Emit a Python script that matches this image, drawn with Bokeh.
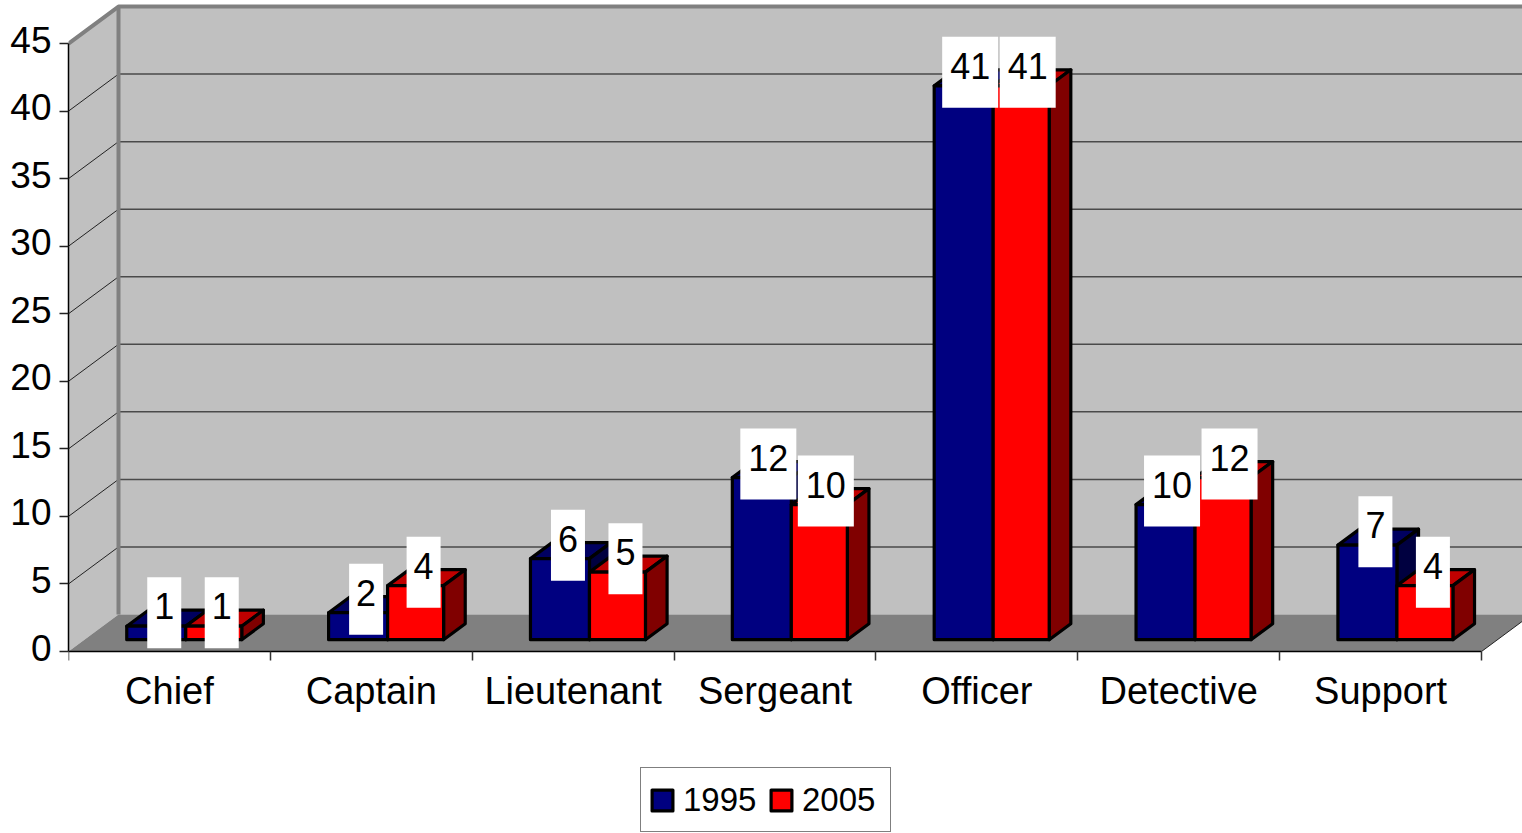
from bokeh.embed import file_html
from bokeh.resources import INLINE
from bokeh.plotting import figure
from bokeh.core.properties import value
from bokeh.models import (LinearAxis, Range1d, FixedTicker, Legend, LegendItem)

categories = ["Chief", "Captain", "Lieutenant", "Sergeant", "Officer", "Detective", "Support"]
series_1995 = [1, 2, 6, 12, 41, 10, 7]
series_2005 = [1, 4, 5, 10, 41, 12, 4]
y_ticks = [0, 5, 10, 15, 20, 25, 30, 35, 40, 45]
legend_names = ["1995", "2005"]

FONT = "Liberation Sans"
W, H = 1522, 833
LEFT, BASE = 68, 651
CW = 201.86       # px per category
VH = 13.51        # px per value unit
PX = 1.0 / CW     # one px in x data units
PY = 1.0 / VH     # one px in y data units
WALL_DX, WALL_DY = 50 * PX, 37 * PY      # floor depth
BAR_D0, BAR_D1 = 11.8 / 37, 27.8 / 37    # bar depth in the floor
GAP = 42.3 * PX
BW = [59 * PX, 56 * PX]
XMAX = (W - LEFT) * PX
YMAX = BASE * PY
YMIN = (BASE - H) * PY


def proj(x, y, d):
    return x + d * WALL_DX, y + d * WALL_DY


p = figure(width=W, height=H, output_backend="svg", toolbar_location=None,
           x_range=Range1d(0, XMAX), y_range=Range1d(YMIN, YMAX),
           x_axis_location=None, y_axis_location=None,
           min_border_left=LEFT, min_border_right=0, min_border_top=0,
           min_border_bottom=0, outline_line_color=None,
           background_fill_color="white")
p.grid.visible = False

# walls and floor
wx0, wy0 = proj(0, 0, 1)
wx1, wy1 = proj(0, 45, 1)
rx, ry = proj(7, 0, 1)
p.patch([wx0, XMAX, XMAX, wx0], [wy0, wy0, wy1, wy1], fill_color="#C0C0C0", line_color=None)
p.patch([0, wx0, wx1, 0], [0, wy0, wy1, 45], fill_color="#C0C0C0", line_color=None)
p.patch([0, wx0, rx, 7], [0, wy0, ry, 0], fill_color="#808080", line_color=None)

grid_vals = y_ticks[1:-1]
p.multi_line([[wx0, XMAX] for v in grid_vals],
             [[proj(0, v, 1)[1]] * 2 for v in grid_vals], line_color="#4a4a4a", line_width=1.5)
p.multi_line([[0, wx0] for v in grid_vals],
             [[v, proj(0, v, 1)[1]] for v in grid_vals], line_color="#222222", line_width=1)
p.line([7, rx], [0, ry], line_color="#222222", line_width=1)
p.line([wx0, wx0], [wy0, wy1], line_color="#808080", line_width=4)
p.line([0, wx1, XMAX], [45, wy1, wy1], line_color="#808080", line_width=4)


def faces(vals, left_shift, bw):
    front_x, front_y, top_x, top_y, side_x, side_y = [], [], [], [], [], []
    for i, v in enumerate(vals):
        x0 = i + GAP + left_shift
        x1 = x0 + bw
        a = [proj(x0, 0, BAR_D0), proj(x1, 0, BAR_D0), proj(x1, v, BAR_D0), proj(x0, v, BAR_D0)]
        b = [proj(x0, v, BAR_D0), proj(x1, v, BAR_D0), proj(x1, v, BAR_D1), proj(x0, v, BAR_D1)]
        c = [proj(x1, 0, BAR_D0), proj(x1, 0, BAR_D1), proj(x1, v, BAR_D1), proj(x1, v, BAR_D0)]
        front_x.append([q[0] for q in a]); front_y.append([q[1] for q in a])
        top_x.append([q[0] for q in b]); top_y.append([q[1] for q in b])
        side_x.append([q[0] for q in c]); side_y.append([q[1] for q in c])
    return front_x, front_y, top_x, top_y, side_x, side_y


OUT = dict(line_color="black", line_width=3.2, line_join="round")
renderers = []
for vals, shift, bw, cols in ((series_1995, 0, BW[0], ("#000080", "#000060", "#000040")),
                              (series_2005, BW[0], BW[1], ("#FF0000", "#C00000", "#800000"))):
    fx, fy, tx, ty, sx, sy = faces(vals, shift, bw)
    p.patches(tx, ty, fill_color=cols[1], **OUT)
    p.patches(sx, sy, fill_color=cols[2], **OUT)
    renderers.append(p.patches(fx, fy, fill_color=cols[0], **OUT))

# data labels on white boxes
bx, by, bw_, lx, ly, lt = [], [], [], [], [], []
for vals, shift, bw in ((series_1995, 0, BW[0]), (series_2005, BW[0], BW[1])):
    for i, v in enumerate(vals):
        txt = str(v)
        cx, cy = proj(i + GAP + shift + bw / 2, v, BAR_D0)
        cx += (8 if len(txt) == 1 else 6.5) * PX
        cy += 13.5 * PY
        bx.append(cx); by.append(cy); bw_.append((34 if len(txt) == 1 else 56) * PX)
        lx.append(cx); ly.append(cy + 6.5 * PY); lt.append(txt)
p.rect(bx, by, width=bw_, height=71 * PY, fill_color="white", line_color=None)
p.text(lx, ly, text=lt, text_align="center", text_baseline="middle",
       text_font=value(FONT), text_font_size="36px", text_color="black")

# axes
ax = LinearAxis(ticker=FixedTicker(ticks=[i + 0.5 for i in range(7)], minor_ticks=list(range(8))),
                major_label_overrides={i + 0.5: c for i, c in enumerate(categories)},
                major_tick_in=0, major_tick_out=0, minor_tick_in=0, minor_tick_out=9,
                axis_line_color="black", axis_line_width=1.5, minor_tick_line_color="#333333",
                minor_tick_line_width=1.5, bounds=(0, 7), major_label_standoff=9,
                major_label_text_font=FONT, major_label_text_font_size="38px",
                major_label_text_color="black", fixed_location=0)
p.add_layout(ax, "below")

yl = LinearAxis(ticker=FixedTicker(ticks=y_ticks), bounds=(0, 45), axis_line_color="black",
                axis_line_width=1.5, major_tick_in=0, major_tick_out=9,
                major_tick_line_color="#222222", major_tick_line_width=1.5,
                minor_tick_line_color=None,
                major_label_overrides={t: "" for t in y_ticks},
                major_label_standoff=0)
p.add_layout(yl, "left")

p.extra_y_ranges = {"labels": Range1d(YMIN - 4 * PY, YMAX - 4 * PY)}
yt = LinearAxis(y_range_name="labels", ticker=FixedTicker(ticks=y_ticks),
                axis_line_color=None, major_tick_line_color=None, minor_tick_line_color=None,
                major_tick_in=0, major_tick_out=0, major_label_standoff=8,
                major_label_text_font=FONT, major_label_text_font_size="37px",
                major_label_text_color="black")
p.add_layout(yt, "left")

legend = Legend(items=[LegendItem(label=n, renderers=[r]) for n, r in zip(legend_names, renderers)],
                orientation="horizontal", location=(572, 1), margin=0, padding=8,
                spacing=5, glyph_width=26, glyph_height=26, label_standoff=8, label_height=47,
                label_width=80,
                label_text_font=FONT, label_text_font_size="33px", label_text_color="black",
                label_text_baseline="middle", border_line_color="black", border_line_width=1.2,
                background_fill_color="white", background_fill_alpha=1)
p.add_layout(legend, "center")

open("out.html", "w").write(file_html(p, INLINE))
